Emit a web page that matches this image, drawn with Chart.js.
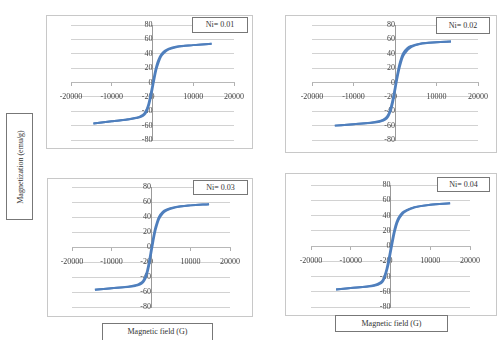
<!DOCTYPE html>
<html>
<head>
<meta charset="utf-8">
<script src="https://cdn.jsdelivr.net/npm/chart.js@4"></script>
<style>
  body { margin: 0; background: #fff; }
  #page { position: relative; width: 497px; height: 340px; overflow: hidden; font-family: "Liberation Serif", serif; }
  canvas { position: absolute; }
  .panel { position: absolute; border: 1px solid #c8c8c8; box-sizing: border-box; }
  .tag { position: absolute; background: #fff; border: 1px solid #777; box-sizing: border-box;
         font-size: 8px; color: #333; text-align: center; z-index: 5; }
  .title { position: absolute; background: #fff; border: 1px solid #777; box-sizing: border-box;
           font-size: 8px; color: #333; text-align: center; z-index: 5; }
</style>
</head>
<body>
<div id="page">
  <div class="panel" style="left:46px;top:15px;width:207px;height:134px"></div>
  <div class="panel" style="left:285px;top:15px;width:212px;height:138px"></div>
  <div class="panel" style="left:47px;top:178px;width:206px;height:139px"></div>
  <div class="panel" style="left:285px;top:173px;width:212px;height:143px"></div>

  <canvas id="c1" width="203" height="155" style="left:51px;top:5px"></canvas>
  <canvas id="c2" width="206" height="155" style="left:292px;top:5px"></canvas>
  <canvas id="c3" width="198" height="160" style="left:52px;top:167px"></canvas>
  <canvas id="c4" width="199" height="162" style="left:291px;top:165px"></canvas>

  <div class="tag" style="left:192px;top:17px;width:56px;height:16px;line-height:14px">Ni= 0.01</div>
  <div class="tag" style="left:436px;top:17px;width:54px;height:17px;line-height:15px">Ni= 0.02</div>
  <div class="tag" style="left:193px;top:180px;width:55px;height:15px;line-height:13px">Ni= 0.03</div>
  <div class="tag" style="left:437px;top:177px;width:53px;height:15px;line-height:13px">Ni= 0.04</div>

  <div class="title" style="left:6px;top:113px;width:27px;height:107px">
    <div style="position:absolute;left:50%;top:50%;transform:translate(-50%,-50%) rotate(-90deg);white-space:nowrap">Magnetization (emu/g)</div>
  </div>
  <div class="title" style="left:102px;top:323px;width:111px;height:18px;line-height:15px">Magnetic field (G)</div>
  <div class="title" style="left:335px;top:315px;width:113px;height:17px;line-height:15px">Magnetic field (G)</div>
</div>

<script>
// applied field (G) and magnetization (emu/g), upper and lower loop branches
const field1 = [-14500, -10000, -6000, -4000, -3000, -2000, -1500, -1000, -500, 0, 500, 1000, 1500, 2000, 3000, 4000, 6000, 10000, 14500];
const upper1 = [-57, -54, -51, -49, -47, -43, -38, -30, -17, -3, 12, 24, 32, 38, 44, 47, 50, 52, 54];
const lower1 = [-57, -54, -51.5, -49.5, -48, -45, -41, -34, -23, -9, 6, 19, 28, 35, 42, 46, 49.5, 52, 54];

const field2 = [-14500, -10000, -6000, -4000, -3000, -2000, -1500, -1000, -500, 0, 500, 1000, 1500, 2000, 3000, 4000, 6000, 10000, 13500];
const upper2 = [-60, -58, -56, -54, -52, -48, -43, -34, -22, -6, 10, 24, 34, 41, 48, 51, 54, 56, 57];
const lower2 = [-60, -58, -56.5, -55, -53.5, -50, -46, -39, -28, -12, 4, 18, 29, 37, 45, 49.5, 53.5, 56, 57];

const field3 = [-14200, -10000, -6000, -4000, -3000, -2000, -1500, -1000, -500, 0, 500, 1000, 1500, 2000, 3000, 4000, 6000, 10000, 14700];
const upper3 = [-57, -55, -53, -51, -49, -45, -40, -32, -19, -4, 11, 24, 33, 40, 47, 50, 53, 55.5, 57];
const lower3 = [-57, -55, -53.5, -52, -50.5, -47, -43, -36, -25, -10, 5, 19, 29, 37, 45, 49, 52.5, 55.5, 57];

const field4 = [-13700, -10000, -6000, -4000, -3000, -2000, -1500, -1000, -500, 0, 500, 1000, 1500, 2000, 3000, 4000, 6000, 10000, 15000];
const upper4 = [-57, -55, -53, -51, -49, -45, -39, -30, -18, -4, 10, 22, 31, 37, 44, 47, 51, 54, 56];
const lower4 = [-57, -55, -53.5, -52, -50.5, -47, -42, -34, -24, -10, 4, 17, 27, 34, 42, 46, 50.5, 54, 56];

const xTicks = [-20000, -10000, 0, 10000, 20000];
const yTicks = [-80, -60, -40, -20, 0, 20, 40, 60, 80];

const lineColor = "#4f7fbd";
const gridColor = "#d2d2d2";
const tickFont = { family: "Liberation Serif", size: 8 };

function branch(field, m) {
  return {
    data: field.map((h, i) => ({ x: h, y: m[i] })),
    showLine: true,
    borderColor: lineColor,
    borderWidth: 2,
    pointRadius: 0,
    cubicInterpolationMode: "monotone"
  };
}

function makeChart(id, field, upper, lower) {
  return new Chart(document.getElementById(id), {
    type: "scatter",
    data: { datasets: [branch(field, upper), branch(field, lower)] },
    options: {
      responsive: false,
      animation: false,
      layout: { padding: 20 },
      plugins: { legend: { display: false }, tooltip: { enabled: false } },
      scales: {
        x: {
          type: "linear",
          position: { y: 0 },
          min: xTicks[0],
          max: xTicks[xTicks.length - 1],
          afterBuildTicks: s => { s.ticks = xTicks.map(v => ({ value: v })); },
          ticks: { font: tickFont, color: "#444", padding: 7, maxRotation: 0, autoSkip: false, callback: v => String(v) },
          grid: { drawOnChartArea: false, tickLength: 3, color: "#b0b0b0" },
          border: { color: "#b8b8b8" }
        },
        y: {
          position: { x: 0 },
          min: yTicks[0],
          max: yTicks[yTicks.length - 1],
          afterBuildTicks: s => { s.ticks = yTicks.map(v => ({ value: v })); },
          ticks: { font: tickFont, color: "#444", padding: 3, autoSkip: false, callback: v => String(v) },
          grid: { color: gridColor, tickLength: 3 },
          border: { color: "#9a9a9a" }
        }
      }
    }
  });
}

makeChart("c1", field1, upper1, lower1);
makeChart("c2", field2, upper2, lower2);
makeChart("c3", field3, upper3, lower3);
makeChart("c4", field4, upper4, lower4);
</script>
</body>
</html>
